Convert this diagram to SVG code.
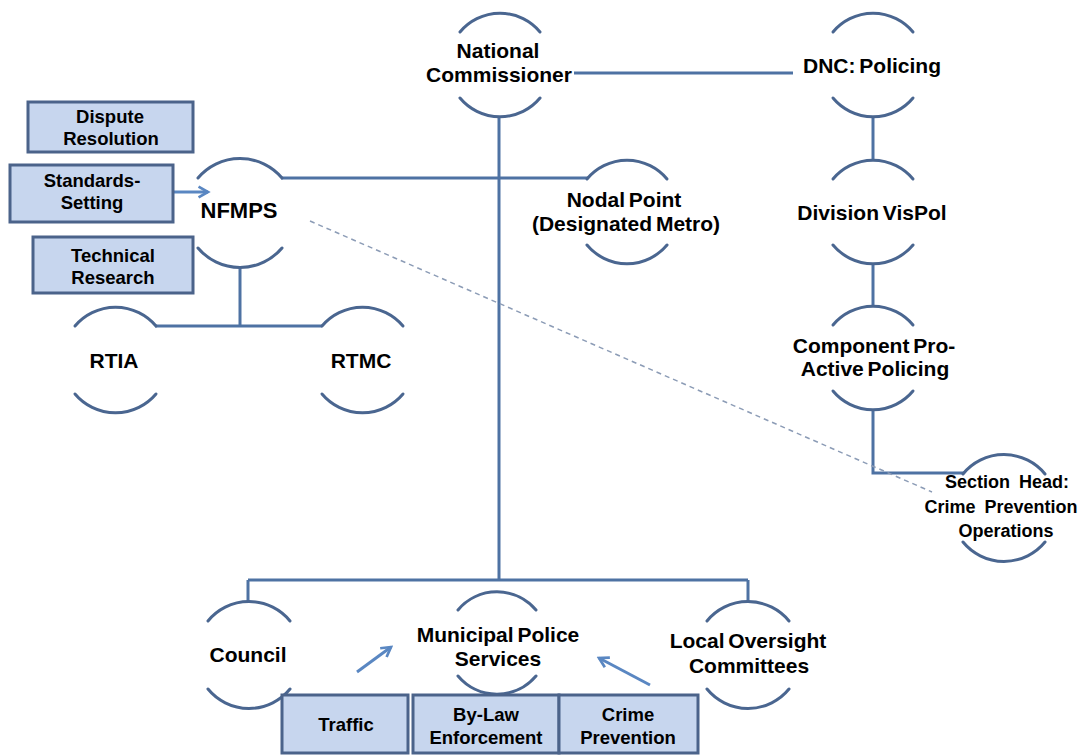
<svg xmlns="http://www.w3.org/2000/svg" width="1091" height="756" viewBox="0 0 1091 756">
<defs>
<style>
.arc{fill:none;stroke:#4a6690;stroke-width:3;stroke-linecap:round}
.ln{fill:none;stroke:#4e72a3;stroke-width:3}
.dash{fill:none;stroke:#8c9cb6;stroke-width:1.5;stroke-dasharray:5 4}
.arr{fill:none;stroke:#5a87c2;stroke-width:3;marker-end:url(#ah)}
.box{fill:#c7d6ee;stroke:#4b638a;stroke-width:3}
.t{font-family:"Liberation Sans",Arial,sans-serif;font-weight:bold;font-size:21px;fill:#000;text-anchor:middle;word-spacing:-2px}
.s{font-size:18.5px;word-spacing:0}
.h{font-size:18px;word-spacing:4px}
</style>
<marker id="ah" viewBox="0 0 10 10" refX="8" refY="5" markerWidth="4.5" markerHeight="4.5" orient="auto" markerUnits="strokeWidth">
<path d="M1,1 L8,5 L1,9" fill="none" stroke="#5a87c2" stroke-width="2"/>
</marker>
</defs>
<rect width="1091" height="756" fill="#fff"/>

<g id="connectors">
<path class="ln" d="M574,73 H793"/>
<path class="ln" d="M499,117 V580"/>
<path class="ln" d="M248,580 H748"/>
<path class="ln" d="M248,580 V602"/>
<path class="ln" d="M748,580 V602"/>
<path class="ln" d="M873,117 V160"/>
<path class="ln" d="M873,264 V306"/>
<path class="ln" d="M873,410 V473 H964"/>
<path class="ln" d="M281,178 H588"/>
<path class="ln" d="M240,268 V326"/>
<path class="ln" d="M155,326 H322"/>
<path class="dash" d="M310,221 L932,492"/>
<path class="arr" d="M173,192 H208"/>
<path class="arr" d="M357,672 L391,647"/>
<path class="arr" d="M650,685 L599,658"/>
</g>

<g id="national">
<path class="arc" d="M460,32 A52,52 0 0 1 540,32"/>
<path class="arc" d="M460,98 A52,52 0 0 0 540,98"/>
<text class="t" x="498" y="58">National</text>
<text class="t" x="499" y="82">Commissioner</text>
</g>

<g id="dnc">
<path class="arc" d="M833,32 A52,52 0 0 1 913,32"/>
<path class="arc" d="M833,98 A52,52 0 0 0 913,98"/>
<text class="t" x="872" y="73">DNC: Policing</text>
</g>

<g id="division">
<path class="arc" d="M833,179 A52,52 0 0 1 913,179"/>
<path class="arc" d="M833,245 A52,52 0 0 0 913,245"/>
<text class="t" x="872" y="220">Division VisPol</text>
</g>

<g id="component">
<path class="arc" d="M833,325 A52,52 0 0 1 913,325"/>
<path class="arc" d="M833,391 A52,52 0 0 0 913,391"/>
<text class="t" x="874" y="353">Component Pro-</text>
<text class="t" x="875" y="376">Active Policing</text>
</g>

<g id="section-head">
<path class="arc" d="M963,474 A53,53 0 0 1 1045,474"/>
<path class="arc" d="M963,542 A53,53 0 0 0 1045,542"/>
<text class="t h" x="1007" y="488">Section Head:</text>
<text class="t h" x="1001" y="513">Crime Prevention</text>
<text class="t h" x="1006" y="537">Operations</text>
</g>

<g id="nfmps">
<path class="arc" d="M198,178 A55,55 0 0 1 282,178"/>
<path class="arc" d="M198,248 A55,55 0 0 0 282,248"/>
<text class="t" x="239" y="218" style="font-size:22px">NFMPS</text>
</g>

<g id="nodal-point">
<path class="arc" d="M587,179 A52,52 0 0 1 667,179"/>
<path class="arc" d="M587,245 A52,52 0 0 0 667,245"/>
<text class="t" x="624" y="207">Nodal Point</text>
<text class="t" x="626" y="231">(Designated Metro)</text>
</g>

<g id="rtia">
<path class="arc" d="M75,326 A53,53 0 0 1 156,326"/>
<path class="arc" d="M75,394 A53,53 0 0 0 156,394"/>
<text class="t" x="114" y="368">RTIA</text>
</g>

<g id="rtmc">
<path class="arc" d="M322,326 A53,53 0 0 1 403,326"/>
<path class="arc" d="M322,394 A53,53 0 0 0 403,394"/>
<text class="t" x="361" y="368">RTMC</text>
</g>

<g id="council">
<path class="arc" d="M208,621 A53,53 0 0 1 290,621"/>
<path class="arc" d="M208,689 A53,53 0 0 0 290,689"/>
<text class="t" x="248" y="662">Council</text>
</g>

<g id="municipal">
<path class="arc" d="M458,610 A51,51 0 0 1 536,610"/>
<path class="arc" d="M458,676 A51,51 0 0 0 536,676"/>
<text class="t" x="498" y="642">Municipal Police</text>
<text class="t" x="498" y="666">Services</text>
</g>

<g id="local-oversight">
<path class="arc" d="M707,621 A53,53 0 0 1 789,621"/>
<path class="arc" d="M707,689 A53,53 0 0 0 789,689"/>
<text class="t" x="748" y="648">Local Oversight</text>
<text class="t" x="749" y="673">Committees</text>
</g>

<g id="dispute-resolution">
<rect class="box" x="28" y="102" width="165" height="50"/>
<text class="t s" x="110" y="123">Dispute</text>
<text class="t s" x="111" y="145">Resolution</text>
</g>

<g id="standards-setting">
<rect class="box" x="10" y="165" width="163" height="57"/>
<text class="t s" x="92" y="187">Standards-</text>
<text class="t s" x="92" y="209">Setting</text>
</g>

<g id="technical-research">
<rect class="box" x="33" y="237" width="160" height="56"/>
<text class="t s" x="113" y="262">Technical</text>
<text class="t s" x="113" y="284">Research</text>
</g>

<g id="traffic">
<rect class="box" x="282" y="695" width="126" height="58"/>
<text class="t s" x="346" y="731">Traffic</text>
</g>

<g id="by-law">
<rect class="box" x="413" y="695" width="146" height="58"/>
<text class="t s" x="486" y="721">By-Law</text>
<text class="t s" x="486" y="744">Enforcement</text>
</g>

<g id="crime-prevention">
<rect class="box" x="559" y="695" width="139" height="58"/>
<text class="t s" x="628" y="721">Crime</text>
<text class="t s" x="628" y="744">Prevention</text>
</g>
</svg>
